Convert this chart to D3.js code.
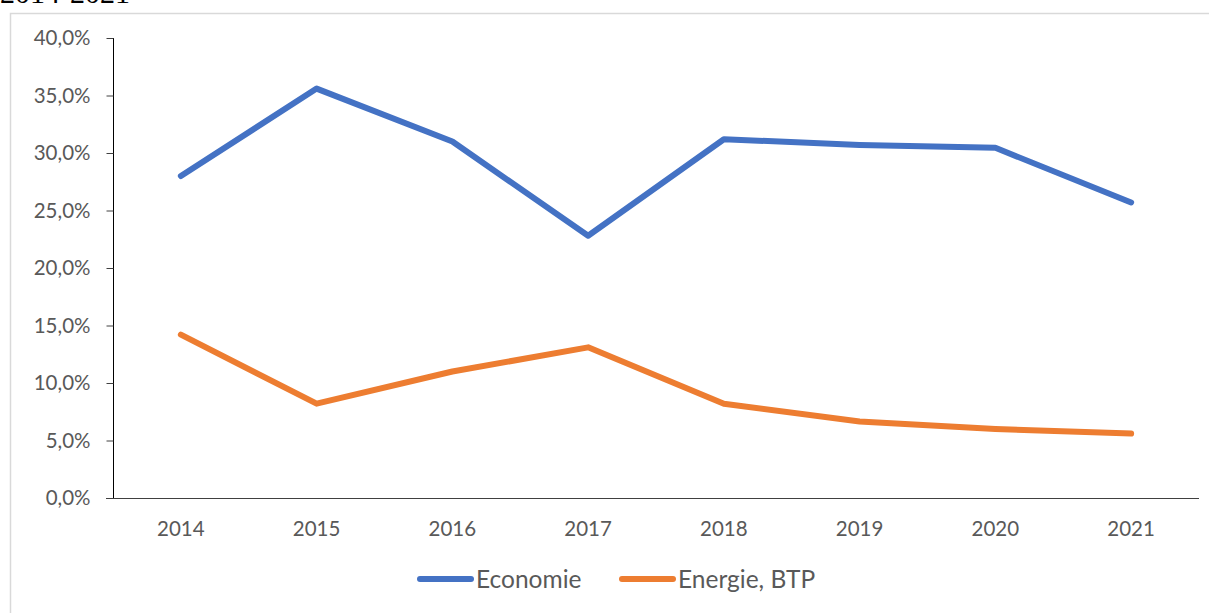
<!DOCTYPE html>
<html>
<head>
<meta charset="utf-8">
<script src="https://cdn.jsdelivr.net/npm/d3@7"></script>
<style>
  body { margin: 0; background: #fff; }
  svg { display: block; }
</style>
</head>
<body>
<div id="app"></div>
<script>
const years = ["2014", "2015", "2016", "2017", "2018", "2019", "2020", "2021"];
const economie = [28.0, 35.6, 31.0, 22.8, 31.2, 30.7, 30.45, 25.7];
const energieBtp = [14.2, 8.2, 11.0, 13.1, 8.2, 6.65, 6.0, 5.6];
const yTicks = [0, 5, 10, 15, 20, 25, 30, 35, 40];
const seriesNames = ["Economie", "Energie, BTP"];
const colors = ["#4472C4", "#ED7D31"];

const w = 1209;
const h = 613;

const svg = d3.select("#app").append("svg").attr("width", w).attr("height", h);

// cut-off caption above chart
svg.append("text")
  .attr("x", 0)
  .attr("y", 3)
  .style("font-family", "Liberation Serif, serif")
  .style("font-size", "30px")
  .style("fill", "#000")
  .text("2014-2021");

// chart frame
svg.append("rect")
  .attr("x", 10.5)
  .attr("y", 13.5)
  .attr("width", 1300)
  .attr("height", 700)
  .attr("fill", "none")
  .attr("stroke", "#d9d9d9")
  .attr("stroke-width", 1.5);

const x = d3.scaleBand().domain(years).range([113, 1199]);
const y = d3.scaleLinear().domain([0, 40]).range([498, 38]);

const font = "Lato, 'Open Sans', sans-serif";

// y axis
const yAxis = d3.axisLeft(y)
  .tickValues(yTicks)
  .tickSize(7)
  .tickPadding(16)
  .tickFormat((d) => d.toFixed(1).replace(".", ",") + "%");

const gy = svg.append("g").attr("transform", "translate(113.5,0)").call(yAxis);
gy.select(".domain").attr("stroke", "#000").attr("d", "M0," + y(40) + "V" + y(0));
gy.selectAll(".tick line").attr("stroke", "#404040");
gy.selectAll("text")
  .style("font-family", font)
  .style("font-size", "20.5px")
  .style("fill", "#595959");

// x axis
const xAxis = d3.axisBottom(x).tickSize(0).tickPadding(23);
const gx = svg.append("g").attr("transform", "translate(0,498.5)").call(xAxis);
gx.select(".domain").attr("stroke", "#404040").attr("d", "M106,0H1199");
gx.selectAll("text")
  .style("font-family", font)
  .style("font-size", "20.5px")
  .style("fill", "#595959");

// lines
const line = d3.line()
  .x((d, i) => x(years[i]) + x.bandwidth() / 2)
  .y((d) => y(d));

[economie, energieBtp].forEach((s, i) => {
  svg.append("path")
    .datum(s)
    .attr("d", line)
    .attr("fill", "none")
    .attr("stroke", colors[i])
    .attr("stroke-width", 6)
    .attr("stroke-linecap", "round")
    .attr("stroke-linejoin", "round");
});

// legend
const legendX = [417, 619];
seriesNames.forEach((name, i) => {
  const g = svg.append("g").attr("transform", `translate(${legendX[i]},579)`);
  g.append("line")
    .attr("x1", 3).attr("x2", 54)
    .attr("y1", 0).attr("y2", 0)
    .attr("stroke", colors[i])
    .attr("stroke-width", 6)
    .attr("stroke-linecap", "round");
  g.append("text")
    .attr("x", 59)
    .attr("y", 8.5)
    .style("font-family", font)
    .style("font-size", "24.5px")
    .style("fill", "#595959")
    .text(name);
});
</script>
</body>
</html>
